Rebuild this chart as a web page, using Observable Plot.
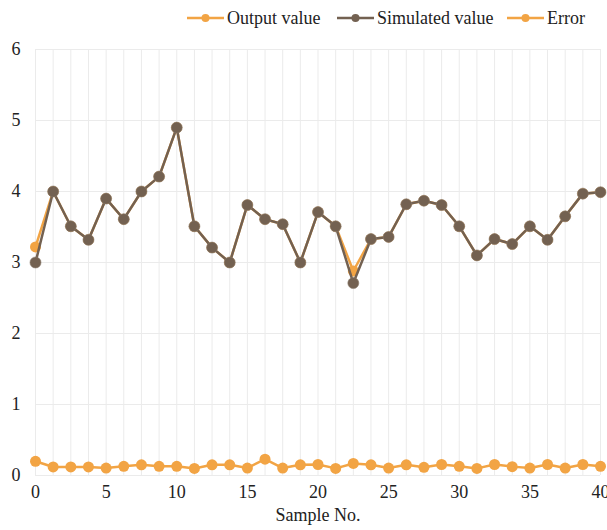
<!DOCTYPE html>
<html>
<head>
<meta charset="utf-8">
<script src="https://cdn.jsdelivr.net/npm/d3@7"></script>
<script src="https://cdn.jsdelivr.net/npm/@observablehq/plot@0.6"></script>
<style>
  html, body { margin: 0; padding: 0; background: #fff; }
  body { width: 607px; font-family: "Liberation Serif", "Times New Roman", serif; color: #222; }
  #legend { position: relative; width: 607px; height: 36px; font-size: 18px; }
  .item { position: absolute; top: 0; height: 36px; display: flex; align-items: center; white-space: nowrap; }
  .item svg { display: block; margin-right: 3px; }
</style>
</head>
<body>
<div id="legend"></div>
<div id="chart"></div>
<script>
// ---- data ----
const sampleNo = [0, 1.25, 2.5, 3.75, 5, 6.25, 7.5, 8.75, 10, 11.25, 12.5, 13.75, 15, 16.25, 17.5, 18.75, 20,
  21.25, 22.5, 23.75, 25, 26.25, 27.5, 28.75, 30, 31.25, 32.5, 33.75, 35, 36.25, 37.5, 38.75, 40];
const simulatedValue = [3.0, 4.0, 3.51, 3.32, 3.9, 3.61, 4.0, 4.21, 4.9, 3.51, 3.21, 3.0, 3.81, 3.61, 3.54, 3.0, 3.71,
  3.51, 2.71, 3.33, 3.36, 3.82, 3.87, 3.81, 3.51, 3.1, 3.33, 3.26, 3.51, 3.32, 3.65, 3.97, 3.99];
const outputValue = [3.22, 4.0, 3.51, 3.32, 3.9, 3.61, 4.0, 4.21, 4.9, 3.51, 3.21, 3.0, 3.81, 3.61, 3.54, 3.0, 3.71,
  3.51, 2.88, 3.33, 3.36, 3.82, 3.87, 3.81, 3.51, 3.1, 3.33, 3.26, 3.51, 3.32, 3.65, 3.97, 3.99];
const errorValue = [0.2, 0.12, 0.12, 0.12, 0.105, 0.13, 0.15, 0.13, 0.13, 0.1, 0.15, 0.15, 0.105, 0.23, 0.105, 0.15, 0.155,
  0.1, 0.17, 0.15, 0.105, 0.15, 0.115, 0.155, 0.13, 0.1, 0.155, 0.125, 0.105, 0.155, 0.105, 0.155, 0.13];
const xTicks = [0, 5, 10, 15, 20, 25, 30, 35, 40];
const yTicks = [0, 1, 2, 3, 4, 5, 6];
const seriesNames = ["Output value", "Simulated value", "Error"];
const seriesColors = ["#f2a444", "#736151", "#f2a444"];

// ---- legend ----
const legendPos = [187, 337, 507];
const legend = document.getElementById("legend");
seriesNames.forEach((name, i) => {
  const item = document.createElement("div");
  item.className = "item";
  item.style.left = legendPos[i] + "px";
  item.innerHTML = `<svg width="37" height="12"><line x1="0" x2="37" y1="6" y2="6" stroke="${seriesColors[i]}" stroke-width="2.5"/><circle cx="18.5" cy="6" r="4" fill="${seriesColors[i]}"/></svg><span>${name}</span>`;
  legend.appendChild(item);
});

// ---- chart ----
const rows = sampleNo.map((x, i) => ({x, output: outputValue[i], sim: simulatedValue[i], err: errorValue[i]}));
const grid = "#ebebeb";

const chart = Plot.plot({
  width: 607,
  height: 494,
  marginLeft: 35,
  marginRight: 7,
  marginTop: 13,
  marginBottom: 55,
  style: {fontFamily: "Liberation Serif, Times New Roman, serif", fontSize: "18px", color: "#222", background: "#fff"},
  x: {domain: [0, 40]},
  y: {domain: [0, 6]},
  marks: [
    Plot.ruleX(sampleNo, {stroke: grid, strokeWidth: 1, y1: 0, y2: 6}),
    Plot.ruleY(yTicks, {stroke: grid, strokeWidth: 1}),
    Plot.axisX({ticks: xTicks, tickFormat: d3.format("d"), tickSize: 0, tickPadding: 10, fontSize: 18, label: "Sample No.", labelAnchor: "center", labelArrow: "none", labelOffset: 45}),
    Plot.axisY({ticks: yTicks, tickFormat: d3.format("d"), tickSize: 0, tickPadding: 15, fontSize: 18, label: null}),
    Plot.line(rows, {x: "x", y: "output", stroke: seriesColors[0], strokeWidth: 2.5}),
    Plot.dot(rows, {x: "x", y: "output", r: 5.5, fill: seriesColors[0]}),
    Plot.line(rows, {x: "x", y: "sim", stroke: seriesColors[1], strokeWidth: 2.5}),
    Plot.dot(rows, {x: "x", y: "sim", r: 5.5, fill: seriesColors[1], stroke: "#8a7a6c", strokeWidth: 0.6}),
    Plot.line(rows, {x: "x", y: "err", stroke: seriesColors[2], strokeWidth: 2.5}),
    Plot.dot(rows, {x: "x", y: "err", r: 5.5, fill: seriesColors[2]})
  ]
});
document.getElementById("chart").appendChild(chart);
</script>
</body>
</html>
